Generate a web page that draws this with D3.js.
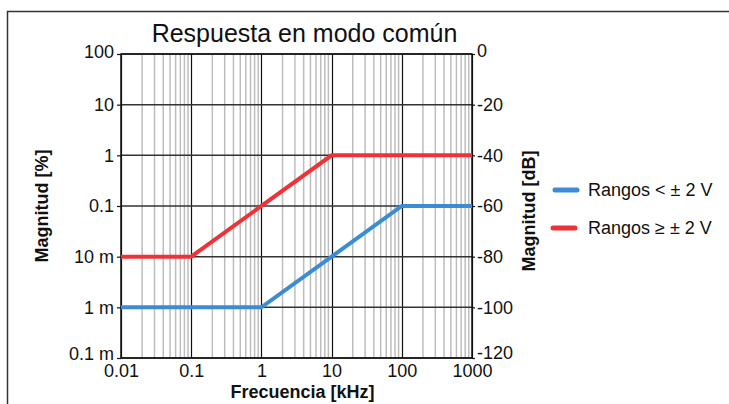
<!DOCTYPE html>
<html>
<head>
<meta charset="utf-8">
<script src="https://cdn.jsdelivr.net/npm/d3@7"></script>
<style>
  body { margin: 0; background: #fff; }
  svg { display: block; font-family: "Liberation Sans", Arial, sans-serif; }
</style>
</head>
<body>
<svg id="chart" width="729" height="404"></svg>
<script>
// Data (frequency in kHz, magnitude in %)
const freqTicks = [0.01, 0.1, 1, 10, 100, 1000];
const freqLabels = ["0.01", "0.1", "1", "10", "100", "1000"];
const pctTicks = [100, 10, 1, 0.1, 0.01, 0.001, 0.0001];
const pctLabels = ["100", "10", "1", "0.1", "10 m", "1 m", "0.1 m"];
const dbTicks = [0, -20, -40, -60, -80, -100, -120];

const lowRangeFreq = [0.01, 1, 100, 1000];
const lowRangeMag = [0.001, 0.001, 0.1, 0.1];
const highRangeFreq = [0.01, 0.1, 10, 1000];
const highRangeMag = [0.01, 0.01, 1, 1];

const seriesNames = ["Rangos < \u00b1 2 V", "Rangos \u2265 \u00b1 2 V"];
const seriesColors = ["#3a8dd3", "#ee3237"];

const svg = d3.select("#chart");
const plotLeft = 121, plotRight = 472, plotTop = 54, plotBottom = 358;

// outer frame (runs off the right and bottom edge)
svg.append("rect")
    .attr("x", 7.5).attr("y", 11.5)
    .attr("width", 760).attr("height", 420)
    .attr("fill", "none")
    .attr("stroke", "#333")
    .attr("stroke-width", 1.5);

const x = d3.scaleLog().domain([0.01, 1000]).range([plotLeft, plotRight]);
const y = d3.scaleLog().domain([0.0001, 100]).range([plotBottom, plotTop]);
const yDb = d3.scaleLinear().domain([-120, 0]).range([plotBottom, plotTop]);

// minor grid
const minor = [];
freqTicks.slice(0, -1).forEach(d => {
    for (let k = 2; k <= 9; k++) minor.push(d * k);
});
svg.append("g").selectAll("line")
    .data(minor)
    .join("line")
    .attr("x1", d => x(d)).attr("x2", d => x(d))
    .attr("y1", plotTop).attr("y2", plotBottom)
    .attr("stroke", "#bdbdbd")
    .attr("stroke-width", 1.5);

// major vertical grid
svg.append("g").selectAll("line")
    .data(freqTicks)
    .join("line")
    .attr("x1", d => Math.round(x(d)) + 0.5).attr("x2", d => Math.round(x(d)) + 0.5)
    .attr("y1", plotTop).attr("y2", plotBottom)
    .attr("stroke", "#111")
    .attr("stroke-width", 1.2);

// horizontal grid
svg.append("g").selectAll("line")
    .data(pctTicks)
    .join("line")
    .attr("x1", plotLeft).attr("x2", plotRight)
    .attr("y1", d => y(d)).attr("y2", d => y(d))
    .attr("stroke", "#333")
    .attr("stroke-width", 1.5);

// plot frame
svg.append("rect")
    .attr("x", plotLeft).attr("y", plotTop)
    .attr("width", plotRight - plotLeft).attr("height", plotBottom - plotTop)
    .attr("fill", "none")
    .attr("stroke", "#111")
    .attr("stroke-width", 1.5);

// left axis
const leftAxis = svg.append("g")
    .attr("transform", `translate(${plotLeft},0)`)
    .call(d3.axisLeft(y).tickValues(pctTicks).tickFormat((d, i) => pctLabels[i]).tickSize(4).tickPadding(3));
leftAxis.select(".domain").remove();

// right axis
const rightAxis = svg.append("g")
    .attr("transform", `translate(${plotRight},0)`)
    .call(d3.axisRight(yDb).tickValues(dbTicks).tickFormat(d => String(d)).tickSize(3).tickPadding(2));
rightAxis.select(".domain").remove();

// bottom axis
const bottomAxis = svg.append("g")
    .attr("transform", `translate(0,${plotBottom})`)
    .call(d3.axisBottom(x).tickValues(freqTicks).tickFormat((d, i) => freqLabels[i]).tickSize(0).tickPadding(6));
bottomAxis.select(".domain").remove();

svg.selectAll(".tick text")
    .attr("font-family", "Liberation Sans, Arial, sans-serif")
    .attr("font-size", 18)
    .attr("fill", "#111");
svg.selectAll(".tick line").attr("stroke", "#111").attr("stroke-width", 1.2);

// nudge the end labels of the vertical axes inward, as in the original
leftAxis.selectAll(".tick text")
    .attr("dy", (d, i) => i === 0 ? "0.2em" : i === pctTicks.length - 1 ? "0.08em" : "0.32em");
rightAxis.selectAll(".tick text")
    .attr("dy", (d, i) => i === 0 ? "0.15em" : i === dbTicks.length - 1 ? "0.03em" : "0.32em");

// series
const line = d3.line().x(d => x(d[0])).y(d => y(d[1]));
const series = [
    d3.zip(lowRangeFreq, lowRangeMag),
    d3.zip(highRangeFreq, highRangeMag)
];
series.forEach((s, i) => {
    svg.append("path")
        .datum(s)
        .attr("d", line)
        .attr("fill", "none")
        .attr("stroke", seriesColors[i])
        .attr("stroke-width", 4);
});

// titles
svg.append("text")
    .attr("x", (plotLeft + plotRight) / 2 + 8).attr("y", 42)
    .attr("text-anchor", "middle")
    .style("font-size", "25px")
    .attr("fill", "#111")
    .text("Respuesta en modo común");

svg.append("text")
    .attr("x", (plotLeft + plotRight) / 2 + 6).attr("y", 398)
    .attr("text-anchor", "middle")
    .style("font-size", "18px")
    .style("font-weight", "bold")
    .attr("fill", "#111")
    .text("Frecuencia [kHz]");

svg.append("text")
    .attr("transform", `translate(48,${(plotTop + plotBottom) / 2}) rotate(-90)`)
    .attr("text-anchor", "middle")
    .style("font-size", "18px")
    .style("font-weight", "bold")
    .attr("fill", "#111")
    .text("Magnitud [%]");

svg.append("text")
    .attr("transform", `translate(535,${(plotTop + plotBottom) / 2 + 5}) rotate(-90)`)
    .attr("text-anchor", "middle")
    .style("font-size", "18px")
    .style("font-weight", "bold")
    .attr("fill", "#111")
    .text("Magnitud [dB]");

// legend
const legend = svg.append("g").attr("transform", "translate(555,190)");
seriesNames.forEach((name, i) => {
    const row = legend.append("g").attr("transform", `translate(${i === 0 ? 0 : -2},${i * 38})`);
    row.append("line")
        .attr("x1", 0).attr("x2", 22)
        .attr("stroke", seriesColors[i])
        .attr("stroke-width", 5)
        .attr("stroke-linecap", "round");
    row.append("text")
        .attr("x", i === 0 ? 33 : 35).attr("y", 6)
        .style("font-size", "18px")
        .attr("fill", "#111")
        .text(name);
});
</script>
</body>
</html>
